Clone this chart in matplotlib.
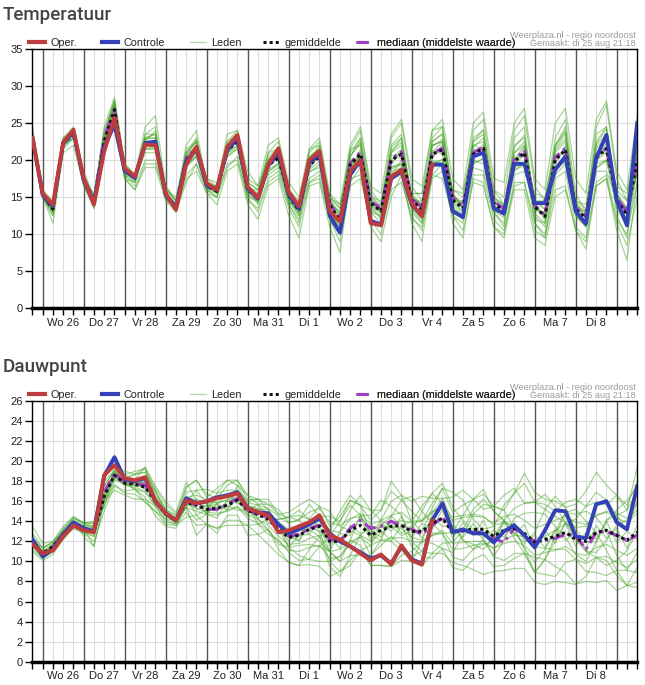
import numpy as np
import matplotlib
matplotlib.use("Agg")
import matplotlib.pyplot as plt
from matplotlib.lines import Line2D

# ---------------- data ----------------
day_labels = ['Wo 26', 'Do 27', 'Vr 28', 'Za 29', 'Zo 30', 'Ma 31', 'Di 1',
              'Wo 2', 'Do 3', 'Vr 4', 'Za 5', 'Zo 6', 'Ma 7', 'Di 8']
steps_per_day = 4          # 6-hourly values
first_day_start = 1        # index of 00:00 of 'Wo 26'
n_points = 60

temp_oper = [23, 15.5, 14.0, 22.4, 24.1, 17.5, 14.0, 21.2, 25.7, 18.9, 17.8, 22.1, 22.0,
             15.5, 13.3, 19.4, 21.8, 16.9, 16.0, 21.8, 23.4, 16.4, 14.9, 19.4, 21.6,
             15.7, 13.8, 20.0, 21.2, 13.1, 11.7, 18.5, 20.0, 11.5, 11.2, 17.8, 18.7,
             14.2, 12.4, 19.4]
temp_controle = [23, 15.3, 13.8, 22.3, 23.8, 17.3, 14.2, 21.8, 24.8, 18.6, 17.6, 22.3, 22.5,
                 15.3, 13.5, 19.8, 21.5, 16.6, 16.1, 21.4, 23.0, 16.2, 14.8, 19.3, 21.2,
                 15.4, 13.5, 19.6, 20.8, 12.5, 10.2, 18.0, 20.0, 11.8, 11.3, 17.5, 18.5,
                 14.0, 12.5, 19.4, 19.4, 13.1, 12.3, 20.5, 21.0, 13.5, 12.8, 19.5, 19.5,
                 14.2, 14.2, 18.7, 20.5, 13.1, 11.4, 20.3, 23.4, 14.6, 11.2, 25.0]
temp_mean = [23, 15.3, 13.4, 22.3, 23.5, 17.5, 14.5, 22.5, 26.8, 18.5, 17.6, 22.2, 22.3,
             15.3, 13.8, 20.0, 21.5, 16.5, 15.8, 21.3, 22.5, 16.0, 14.8, 19.3, 20.3,
             15.2, 13.2, 19.3, 20.5, 14.0, 11.8, 19.4, 20.8, 14.2, 13.1, 20.0, 20.8,
             14.6, 13.3, 20.8, 21.4, 14.6, 13.5, 20.8, 21.6, 14.2, 13.1, 19.8, 21.0,
             13.7, 12.4, 20.0, 21.4, 13.3, 12.2, 20.3, 21.6, 14.6, 12.6, 20.0]
temp_median = [23, 15.3, 13.6, 22.5, 23.7, 17.6, 14.6, 23.0, 26.9, 18.6, 17.7, 22.2, 22.5,
               15.4, 13.9, 20.3, 21.7, 16.6, 15.9, 21.5, 22.7, 16.1, 14.9, 19.5, 20.5,
               15.3, 13.4, 19.6, 20.7, 14.2, 12.0, 19.6, 21.1, 14.5, 13.4, 20.2, 21.1,
               14.8, 13.6, 20.9, 21.6, 14.9, 13.8, 21.0, 21.8, 14.5, 13.4, 20.1, 21.3,
               13.9, 12.6, 20.4, 21.6, 13.6, 12.5, 20.7, 21.5, 14.9, 13.0, 20.2]
temp_members = [
    [23.5, 15.8, 14, 22.5, 24, 18, 15, 24, 28, 19, 17.5, 23.5, 24.5,
     15.5, 13.5, 21, 23, 17, 16, 22.5, 24, 17, 16, 21, 22.5, 15.5, 13, 21, 22.5,
     15, 13.5, 21.5, 24, 16, 14, 23, 25, 16.5, 14.5, 23, 24.5, 15.5, 13.5, 24, 25.5,
     16, 15, 24, 26, 16.5, 14.5, 23, 25.5, 15.5, 13, 24.5, 27.5, 17.5, 14.5, 25],
    [22.5, 15, 12.5, 21.5, 23, 17, 14, 21.5, 25.5, 18, 16.5, 20, 20,
     15, 13.5, 18, 19.5, 16, 15, 19.5, 20, 15, 13, 17, 18, 13.5, 11, 17, 17.5,
     12, 9, 16.5, 17.5, 12, 10, 16, 17, 12.5, 10.5, 18, 17.5, 12.5, 10.5, 17, 16.5,
     11, 10, 17, 17, 11.5, 9.5, 16, 16.5, 10.5, 9, 16.5, 17.5, 11.5, 8.5, 15],
    [23, 15.5, 13.5, 22, 23.5, 17.5, 14, 23, 27.5, 18.5, 18, 22.5, 22.5,
     16, 14.5, 20.5, 21.5, 16, 15, 21.5, 23, 17, 16, 19.5, 20.5, 14, 11.5, 19, 20.5,
     14, 13, 21.5, 22, 13, 11.5, 18, 20, 15.5, 15.5, 24, 24.5, 15.5, 13.5, 20, 19.5,
     13, 13, 22, 23, 14.5, 13.5, 22, 24.5, 13.5, 11, 18.5, 18.5, 14.5, 13.5, 22],
    [24.5, 16, 14.5, 23, 24.5, 18.5, 15, 24.5, 28.5, 19.5, 18, 24.5, 26,
     16.5, 14.5, 22, 24, 17, 16.5, 23.5, 24, 18.5, 16.5, 22, 23, 17, 15, 21.5, 23,
     15.5, 14, 22, 24.5, 16.5, 15.5, 23.5, 25.5, 17.5, 16.5, 24, 25.5, 17.5, 16, 25, 26.5,
     17.5, 17, 25, 27, 17.5, 16, 25, 27, 17.5, 15.5, 25.5, 28, 18.5, 16, 26],
    [22.5, 15, 11.5, 21, 22, 16.5, 14, 21, 24.5, 17.5, 16, 19, 19,
     14.5, 13, 17, 19.5, 15.5, 14, 18.5, 19.5, 14, 12, 16.5, 17.5, 12.5, 9.5, 16.5, 17,
     11, 7.5, 17.5, 18, 11, 9, 15, 18, 11.5, 9, 18, 19.5, 11.5, 9.5, 17.5, 17,
     11, 9.5, 16, 16, 9.5, 8.5, 15, 16, 10.5, 8, 16.5, 17.5, 10.5, 6.5, 17],
    [23.5, 15.5, 13, 22.5, 24, 17.5, 14.5, 23.5, 28, 18, 17, 23, 23.5,
     15, 13.5, 19, 20.5, 17.5, 16.5, 20.5, 21.5, 15, 14.5, 18.5, 19.5, 16, 14, 18.5, 19,
     15, 14, 18.5, 19.5, 15, 14.5, 21, 22, 13.5, 12, 20, 19.5, 16, 15.5, 22, 22.5,
     13, 11.5, 18, 18.5, 14.5, 14.5, 21, 22.5, 12.5, 11, 19.5, 20, 16.5, 15.5, 21],
    [23, 15, 13, 22, 23, 18, 14.5, 22.5, 26.5, 19, 18, 21.5, 21.5,
     16.5, 14.5, 21, 22.5, 16.5, 15.5, 22.5, 23.5, 16, 15.5, 21, 21.5, 14.5, 13, 21.5, 22,
     13, 11, 20.5, 22.5, 13, 12.5, 22, 23.5, 14.5, 14.5, 19, 19.5, 13.5, 12.5, 23, 24,
     14, 12.5, 23, 24.5, 12.5, 11, 19, 20.5, 14.5, 12, 23.5, 24.5, 13.5, 11, 23],
    [23, 15.5, 13.5, 22.5, 23.5, 17, 15, 21.5, 27, 17.5, 17, 22.5, 24,
     14.5, 13.5, 19.5, 20.5, 16, 15.5, 21, 22, 16.5, 14, 19.5, 20, 15, 13, 17.5, 18.5,
     14, 10, 18.5, 21, 14, 14, 19, 19.5, 15.5, 15.5, 21, 22.5, 14.5, 13, 22, 21.5,
     15, 14, 19, 21, 15.5, 15, 21.5, 23.5, 13.5, 13, 20.5, 21.5, 15.5, 13.5, 18],
    [22.5, 15, 12.5, 22, 23, 17, 13.5, 22, 26, 18, 17.5, 21, 21,
     16, 14.5, 19.5, 21.5, 16, 16, 21, 22.5, 16, 16, 18, 19, 14.5, 12.5, 20, 21,
     15, 13.5, 19.5, 20, 14, 12, 18.5, 19, 13.5, 11.5, 22, 22.5, 13.5, 12, 19, 18.5,
     13, 11, 21, 22, 11.5, 10, 18, 19.5, 12.5, 11, 22, 23.5, 12.5, 9.5, 19],
    [23, 15, 13.5, 22.5, 23.5, 18, 15, 23, 27.5, 18.5, 17, 23, 23,
     15.5, 14, 21.5, 22.5, 16.5, 16.5, 22, 22.5, 15.5, 14.5, 20.5, 21.5, 15.5, 13.5, 20.5, 21.5,
     12.5, 10.5, 21, 23, 15.5, 13.5, 21, 23, 13, 11.5, 22.5, 23.5, 16, 15, 22.5, 23.5,
     16, 14, 19, 19.5, 12, 11.5, 22, 24, 14.5, 14, 22.5, 24.5, 15.5, 12.5, 22],
    [23.5, 15.5, 14, 23, 24, 17.5, 15.5, 23.5, 28, 19.5, 18, 23.5, 23.5,
     16, 15, 20.5, 22, 17.5, 17, 22, 23, 17.5, 16.5, 20, 21, 16, 14.5, 20, 20.5,
     14.5, 13, 19, 20.5, 13.5, 13, 20, 21.5, 15, 14, 22, 22.5, 14.5, 14.5, 20.5, 21,
     14.5, 13.5, 20, 22, 13.5, 12.5, 19, 20.5, 14.5, 13.5, 20, 21, 16, 14.5, 20],
    [23, 15, 13, 22, 23.5, 16.5, 13.5, 20.5, 25.5, 17.5, 16, 19.5, 19.5,
     15, 13, 17.5, 18.5, 15.5, 15, 19, 20.5, 14.5, 13.5, 17.5, 18.5, 14, 12, 17, 18,
     12, 10, 17, 19, 12, 11, 17.5, 18, 12, 11, 17.5, 18.5, 12.5, 11.5, 18, 18,
     12, 10.5, 16.5, 17, 10.5, 9.5, 17.5, 18.5, 11, 9.5, 17, 18, 12, 10, 17],
    [23.2, 15.6, 13.0, 22.8, 24.2, 17.2, 14.8, 23.2, 27.2, 18.2, 17.9, 22.8, 23.0, 15.0, 13.5,
     20.8, 22.4, 16.8, 15.5, 21.9, 23.4, 16.6, 15.5, 20.1, 21.2, 15.9, 13.9, 20.3, 21.6, 14.8,
     12.5, 20.6, 22.2, 15.0, 13.6, 21.3, 22.4, 15.4, 14.0, 21.9, 22.8, 15.3, 14.2, 21.8, 23.0,
     15.0, 13.9, 21.0, 22.5, 14.5, 13.3, 21.3, 22.9, 14.1, 13.0, 21.6, 23.1, 15.5, 13.4, 21.5],
    [22.8, 15.0, 13.1, 21.8, 23.0, 17.8, 14.2, 22.0, 26.2, 18.8, 17.3, 21.5, 21.5, 15.6, 14.1,
     19.2, 20.6, 16.2, 16.2, 20.5, 21.6, 15.4, 14.2, 18.4, 19.4, 14.6, 12.5, 18.3, 19.4, 13.2,
     11.0, 18.2, 19.5, 13.4, 12.3, 18.8, 19.4, 13.8, 12.5, 19.6, 20.1, 13.8, 12.6, 19.6, 20.2,
     13.3, 12.2, 18.6, 19.6, 12.8, 11.5, 18.8, 19.9, 12.5, 11.3, 19.0, 20.0, 13.6, 11.7, 18.6],
    [23.0, 15.5, 13.8, 22.0, 23.8, 17.6, 14.4, 22.8, 27.0, 18.4, 17.8, 22.6, 22.0, 15.2, 14.0,
     20.4, 21.2, 16.7, 15.6, 21.8, 22.2, 16.4, 14.5, 19.9, 20.0, 15.5, 13.6, 18.8, 20.9, 14.5,
     12.4, 18.8, 21.4, 14.8, 12.6, 20.7, 20.2, 15.2, 13.9, 20.2, 22.1, 14.1, 13.0, 21.5, 21.0,
     14.8, 13.7, 19.2, 21.7, 14.3, 11.9, 20.7, 20.8, 13.9, 12.8, 19.7, 22.3, 14.0, 12.1, 20.8],
    [23.1, 15.2, 13.3, 22.6, 23.3, 17.3, 14.7, 22.3, 26.6, 18.7, 17.5, 21.9, 22.7, 15.5, 13.6,
     19.6, 21.9, 16.3, 16.0, 20.9, 22.9, 15.7, 15.1, 18.9, 20.7, 14.9, 12.9, 19.8, 20.1, 13.6,
     11.4, 19.9, 20.3, 13.7, 13.5, 19.4, 21.3, 14.1, 12.8, 21.3, 20.8, 15.1, 14.0, 20.2, 22.2,
     13.7, 12.6, 20.4, 20.4, 13.2, 12.9, 19.4, 22.0, 12.8, 11.7, 20.8, 21.0, 15.1, 13.1, 19.3],
    [23.3, 15.4, 13.6, 22.4, 23.6, 17.4, 14.6, 22.6, 27.5, 18.3, 17.7, 23.0, 23.5, 15.4, 13.9,
     20.6, 22.8, 16.4, 15.7, 21.6, 23.2, 16.2, 14.9, 20.0, 21.8, 15.0, 13.2, 20.1, 22.0, 14.3,
     12.0, 20.4, 22.9, 14.4, 13.2, 21.7, 23.0, 14.8, 13.4, 22.5, 23.6, 14.9, 13.6, 22.5, 24.1,
     14.5, 13.2, 21.7, 23.4, 13.9, 12.6, 21.9, 23.8, 13.6, 12.4, 22.2, 24.2, 14.9, 12.8, 22.4],
    [22.9, 15.3, 13.5, 22.2, 23.4, 17.5, 14.4, 22.4, 26.4, 18.5, 17.6, 21.6, 21.8, 15.3, 13.7,
     19.5, 20.9, 16.6, 15.9, 20.8, 21.9, 16.1, 14.7, 18.7, 19.6, 15.3, 13.3, 18.7, 19.8, 14.1,
     11.9, 18.6, 19.7, 14.3, 13.0, 19.1, 19.5, 14.7, 13.3, 19.5, 20.0, 14.7, 13.5, 19.5, 20.2,
     14.3, 13.2, 18.6, 19.3, 13.8, 12.5, 18.7, 19.8, 13.4, 12.3, 18.9, 19.9, 14.7, 12.7, 18.5],
]

dew_oper = [11.7, 10.8, 11.1, 12.5, 13.6, 13.1, 12.9, 18.6, 19.6, 18.3, 18.1, 18.4, 16.0,
            14.8, 14.1, 16.1, 15.8, 16.0, 16.3, 16.5, 16.8, 15.3, 14.9, 14.6, 12.9,
            13.1, 13.5, 13.9, 14.6, 12.6, 12.2, 11.5, 10.8, 10.1, 10.7, 9.7, 11.6,
            10.1, 9.7, 14.1]
dew_controle = [12.2, 10.5, 11.2, 12.7, 13.9, 13.3, 13.0, 18.5, 20.4, 18.2, 18.0, 18.3, 16.0,
                14.8, 14.1, 16.3, 15.8, 16.0, 16.4, 16.6, 16.9, 15.3, 14.9, 14.8, 13.7,
                12.8, 13.2, 13.7, 14.3, 12.8, 12.0, 11.5, 10.9, 10.3, 10.6, 9.8, 11.5,
                10.2, 9.8, 14.1, 15.8, 12.9, 13.2, 12.8, 12.8, 11.9, 13.0, 13.6, 12.6,
                11.4, 13.1, 15.1, 15.0, 12.5, 12.3, 15.7, 16.0, 13.9, 13.2, 17.5]
dew_mean = [12.0, 10.8, 11.5, 12.7, 13.8, 13.3, 13.0, 16.5, 18.6, 17.8, 17.7, 17.4, 16.0,
            14.7, 14.1, 15.9, 15.6, 15.2, 15.3, 15.6, 16.1, 15.1, 14.7, 14.2, 13.2,
            12.4, 12.6, 13.2, 13.5, 12.0, 12.0, 13.1, 13.6, 12.6, 13.1, 13.5, 13.6,
            13.0, 13.0, 13.8, 14.3, 12.9, 13.1, 13.2, 13.2, 12.5, 13.1, 13.3, 12.8,
            11.9, 12.2, 12.5, 12.9, 12.2, 12.0, 12.9, 13.1, 12.6, 12.1, 12.9]
dew_median = [12.0, 10.8, 11.4, 12.8, 13.8, 13.3, 13.0, 16.9, 18.8, 17.9, 17.8, 17.6, 16.0,
              14.7, 14.1, 16.0, 15.6, 15.2, 15.2, 15.7, 16.3, 15.1, 14.7, 14.4, 13.4,
              12.5, 12.7, 13.3, 13.6, 12.2, 12.0, 13.3, 14.1, 13.3, 13.5, 14.0, 13.6,
              13.2, 12.7, 13.6, 14.4, 13.0, 13.0, 12.9, 12.9, 12.3, 11.9, 13.3, 12.7,
              12.0, 12.1, 12.3, 12.7, 12.6, 11.2, 12.9, 13.0, 12.6, 12.1, 12.6]
dew_members = [
    [12.5, 11.3, 11.8, 13.2, 14.3, 13.8, 14.0, 18, 19.1, 18.3, 18.7, 18.9, 17, 15.2, 14.1,
     17.4, 18.1, 16.7, 16.3, 17.6, 18.1, 16.1, 16.2, 15.7, 15.2, 13.9, 14.1, 15.7, 14.5,
     14.5, 14.0, 16.1, 15.6, 14.1, 15.1, 17.0, 16.1, 15.0, 14.0, 15.8, 17.3, 14.9, 15.6,
     16.2, 15.2, 15.5, 16.6, 17.3, 15.8, 15.9, 15.7, 15.0, 15.9, 16.2, 15.5, 15.9, 15.6,
     16.6, 15.6, 17.9],
    [11.5, 10.3, 11.0, 12.2, 13.3, 12.8, 12.0, 15, 17.6, 16.8, 16.7, 15.9, 15, 13.7, 13.6,
     14.9, 13.6, 13.7, 13.3, 14.1, 14.1, 13.6, 12.7, 11.7, 10.7, 9.9, 9.6, 9.7, 9.5, 8.5,
     9.0, 10.1, 11.1, 9.6, 9.6, 9.5, 10.1, 10.0, 9.5, 10.8, 10.8, 9.9, 9.6, 9.2, 8.7, 9.0,
     9.1, 9.3, 9.3, 7.9, 7.7, 8.0, 7.9, 7.7, 8.0, 7.9, 8.1, 7.1, 7.6, 7.4],
    [13.5, 11.8, 12.0, 13.5, 14.5, 13.8, 13.5, 15.5, 18.1, 17.8, 18.2, 19.4, 17.5, 16.0, 14.9,
     17.9, 16.1, 15.2, 16.8, 18.1, 17.6, 15.6, 15.2, 15.2, 13.7, 11.4, 10.6, 10.2, 11.5,
     12.5, 14.0, 15.6, 14.6, 12.6, 12.1, 12.0, 13.6, 14.0, 15.5, 16.8, 15.8, 13.4, 12.1,
     11.7, 11.2, 12.5, 14.1, 15.3, 15.8, 15.9, 16.7, 15.5, 13.9, 12.2, 11.0, 10.9, 12.1,
     13.6, 14.1, 15.9],
    [11.0, 10.1, 10.7, 12.2, 13.5, 13.3, 11.5, 16, 17.1, 16.6, 16.2, 16.2, 15.5, 13.9, 13.8,
     16.4, 16.6, 16.2, 15.8, 15.1, 17.6, 16.6, 15.7, 14.2, 14.2, 14.4, 15.1, 14.2, 13.5,
     11.0, 10.0, 12.1, 14.6, 14.6, 16.1, 15.5, 14.6, 12.0, 11.0, 10.8, 11.8, 11.9, 13.1,
     15.2, 16.2, 15.0, 14.1, 12.3, 10.8, 8.9, 10.2, 12.5, 14.9, 14.7, 15.0, 14.4, 13.1,
     10.6, 9.1, 10.9],
    [12.3, 11.0, 11.7, 13.0, 14.1, 13.6, 13.5, 18.5, 19.4, 19.0, 18.7, 19.4, 16.5, 15.2, 14.4,
     16.9, 17.1, 17.2, 16.8, 17.1, 17.1, 15.6, 13.7, 12.7, 12.2, 10.9, 10.1, 10.2, 10.0,
     10.0, 10.5, 12.1, 11.6, 9.6, 9.6, 9.5, 10.6, 11.0, 12.0, 11.8, 11.3, 9.4, 9.1, 10.2,
     10.7, 9.5, 9.6, 10.3, 10.8, 10.4, 10.2, 9.5, 8.9, 7.7, 8.5, 10.4, 10.1, 8.6, 7.6, 7.9],
    [12.0, 10.8, 11.2, 12.7, 14.0, 12.8, 12.5, 17, 18.9, 17.8, 17.2, 16.9, 15.5, 14.2, 13.6,
     14.4, 14.6, 13.7, 13.3, 13.6, 13.6, 13.6, 13.7, 14.2, 14.2, 14.4, 14.1, 13.2, 12.5,
     13.0, 15.0, 16.6, 15.6, 12.6, 14.1, 16.0, 16.6, 14.0, 13.0, 15.3, 17.3, 16.9, 16.1,
     14.2, 13.2, 13.5, 15.6, 16.8, 17.8, 15.9, 15.2, 14.5, 13.9, 14.2, 15.5, 16.9, 16.1,
     14.6, 13.1, 15.9],
    [11.5, 10.5, 11.5, 12.5, 13.5, 13.6, 13.5, 15.5, 18.9, 18.3, 18.0, 17.9, 16.3, 14.7, 13.8,
     15.4, 16.1, 14.7, 14.3, 16.1, 16.1, 15.6, 14.2, 13.2, 11.2, 9.9, 9.6, 11.2, 12.5, 9.5,
     8.5, 10.6, 12.6, 13.6, 13.1, 12.0, 11.1, 10.0, 12.0, 14.8, 16.3, 13.9, 12.1, 11.2,
     11.7, 12.0, 14.1, 13.3, 11.3, 8.9, 10.2, 12.0, 13.9, 12.7, 11.0, 10.4, 9.6, 10.1,
     11.1, 12.9],
    [12.5, 10.5, 11.7, 13.1, 14.3, 13.8, 13.8, 17.5, 19.1, 17.8, 17.7, 17.9, 17, 15.2, 14.6,
     16.4, 14.6, 15.2, 16.3, 16.6, 16.1, 14.6, 14.7, 14.7, 13.7, 12.4, 12.1, 14.2, 15.5,
     15.0, 13.5, 13.1, 12.6, 10.6, 12.1, 14.5, 16.1, 16.5, 15.0, 13.8, 12.8, 12.9, 14.6,
     16.2, 17.2, 15.0, 14.1, 12.8, 11.8, 12.9, 15.2, 16.5, 15.4, 13.2, 12.0, 11.9, 14.1,
     15.1, 16.1, 17.4],
    [11.7, 11.0, 11.3, 12.4, 13.3, 13.0, 12.5, 16, 17.6, 17.0, 17.2, 16.4, 14.5, 13.5, 13.3,
     15.9, 17.1, 15.7, 15.3, 15.6, 15.1, 15.1, 15.7, 15.7, 14.7, 14.4, 14.6, 14.2, 13.0,
     10.0, 9.0, 9.6, 11.1, 11.6, 13.6, 14.5, 13.6, 11.5, 10.5, 10.3, 11.3, 10.9, 12.6,
     14.7, 15.7, 15.5, 15.1, 13.3, 11.3, 9.9, 11.2, 13.0, 14.9, 15.2, 14.0, 12.9, 11.1,
     9.1, 7.6, 9.4],
    [12.2, 11.3, 12.0, 13.0, 14.0, 12.5, 11.5, 16, 18.3, 18.3, 18.7, 18.9, 17, 14.7, 13.8,
     15.4, 14.1, 14.7, 15.8, 16.6, 17.1, 16.1, 16.2, 15.2, 13.2, 11.4, 11.6, 11.7, 11.5,
     11.0, 13.0, 15.1, 16.6, 15.1, 14.1, 13.5, 12.6, 13.0, 15.0, 16.8, 17.8, 15.4, 14.1,
     13.2, 12.2, 10.5, 12.1, 14.3, 14.8, 14.9, 14.7, 13.5, 12.4, 10.7, 10.0, 11.9, 14.1,
     14.6, 15.1, 16.9],
    [11.2, 10.3, 11.0, 12.3, 13.5, 12.8, 13.0, 17.5, 19.1, 17.8, 17.2, 15.9, 15, 14.2, 14.1,
     15.4, 12.6, 13.7, 12.8, 14.6, 14.6, 12.6, 12.7, 13.2, 11.7, 11.4, 12.6, 12.7, 12.0,
     11.0, 10.0, 10.6, 10.6, 10.6, 11.6, 12.5, 11.6, 10.5, 11.0, 12.8, 12.8, 10.4, 10.1,
     11.2, 12.2, 10.5, 10.1, 10.8, 10.8, 8.9, 8.7, 8.5, 9.9, 10.2, 9.0, 8.9, 8.6, 9.1,
     9.1, 8.9],
    [12.8, 11.4, 11.9, 13.3, 14.4, 13.9, 13.8, 19, 19.4, 18.6, 19.0, 19.2, 17.3, 15.7, 14.7,
     17.4, 18.1, 16.4, 17.3, 18.1, 18.1, 16.6, 16.2, 16.2, 14.7, 14.9, 15.6, 16.2, 15.5,
     13.5, 14.5, 16.1, 15.6, 15.1, 15.1, 18.0, 16.6, 16.0, 16.5, 16.3, 16.3, 16.4, 17.1,
     16.2, 16.7, 15.5, 15.1, 16.8, 18.8, 16.9, 16.2, 16.0, 15.4, 15.7, 17.0, 18.9, 17.6,
     16.6, 15.1, 19.4],
    [12.1, 10.9, 11.6, 12.9, 13.9, 13.5, 13.3, 17.0, 18.8, 17.9, 17.9, 17.8, 16.4, 14.9, 14.3,
     16.3, 16.2, 15.8, 15.9, 16.1, 16.6, 15.5, 15.3, 14.9, 13.9, 13.2, 13.5, 14.0, 14.4, 13.1,
     12.9, 14.2, 14.8, 13.7, 14.1, 14.6, 14.9, 14.0, 14.1, 15.0, 15.4, 14.1, 14.4, 14.5, 14.4,
     13.8, 14.5, 14.7, 14.1, 13.3, 13.7, 14.1, 14.5, 13.9, 13.7, 14.6, 14.9, 14.3, 13.9, 14.8],
    [11.9, 10.7, 11.3, 12.5, 13.6, 13.1, 12.8, 16.2, 18.3, 17.6, 17.4, 17.0, 15.6, 14.5, 13.9,
     15.4, 15.0, 14.7, 14.6, 15.1, 15.5, 14.6, 14.2, 13.6, 12.5, 11.7, 11.8, 12.3, 12.6, 11.0,
     11.2, 12.0, 12.4, 11.6, 12.1, 12.3, 12.4, 12.0, 11.9, 12.6, 13.1, 11.8, 11.9, 12.0, 12.0,
     11.3, 11.8, 12.0, 11.6, 10.6, 10.9, 11.1, 11.5, 10.8, 10.6, 11.4, 11.7, 11.1, 10.6, 11.3],
    [12.2, 11.0, 11.4, 12.8, 13.7, 13.2, 13.4, 16.8, 18.5, 17.6, 17.9, 17.2, 16.3, 14.5, 14.3,
     15.6, 16.1, 14.8, 15.6, 15.2, 16.4, 14.8, 15.2, 13.8, 13.6, 12.0, 13.3, 12.7, 14.2, 11.5,
     12.8, 12.6, 14.5, 12.0, 13.9, 13.0, 14.5, 12.4, 13.8, 13.2, 15.2, 12.3, 13.9, 12.6, 14.1,
     11.8, 13.9, 12.7, 13.7, 11.2, 13.1, 11.8, 13.8, 11.5, 12.9, 12.2, 14.0, 11.9, 13.0, 12.2],
    [11.8, 10.6, 11.6, 12.6, 13.9, 13.4, 12.7, 16.3, 18.7, 18.0, 17.5, 17.6, 15.7, 14.9, 13.9,
     16.2, 15.2, 15.6, 15.0, 16.0, 15.8, 15.4, 14.3, 14.6, 12.8, 12.8, 12.0, 13.7, 12.9, 12.5,
     11.3, 13.6, 12.8, 13.2, 12.4, 14.1, 12.8, 13.6, 12.3, 14.4, 13.5, 13.5, 12.4, 13.8, 12.4,
     13.1, 12.4, 13.9, 12.0, 12.6, 11.4, 13.2, 12.1, 12.9, 11.2, 13.6, 12.3, 13.3, 11.3, 13.6],
    [12.0, 10.9, 11.5, 12.7, 13.8, 13.2, 13.1, 16.6, 18.6, 17.7, 17.6, 17.3, 16.1, 14.8, 14.2,
     16.0, 15.8, 15.5, 15.7, 16.2, 16.8, 15.9, 15.6, 15.3, 14.5, 13.8, 14.2, 14.9, 15.3, 13.9,
     13.6, 14.3, 14.5, 13.3, 13.4, 13.5, 13.3, 12.4, 12.1, 12.6, 12.8, 11.2, 11.3, 11.6, 11.8,
     11.3, 12.2, 12.6, 12.5, 11.9, 12.5, 13.1, 13.8, 13.4, 13.5, 14.6, 15.0, 14.8, 14.3, 15.1],
    [12.1, 10.8, 11.4, 12.6, 13.7, 13.4, 13.0, 16.4, 18.5, 17.9, 17.8, 17.5, 15.9, 14.6, 14.0,
     15.7, 15.3, 14.9, 14.8, 15.0, 15.4, 14.3, 13.8, 13.1, 12.0, 11.1, 11.0, 11.4, 11.6, 10.3,
     10.5, 11.7, 12.6, 12.0, 12.8, 13.6, 14.1, 13.8, 14.0, 14.9, 15.6, 14.4, 14.6, 14.7, 14.5,
     13.6, 13.9, 13.6, 12.7, 11.5, 11.3, 11.2, 11.2, 10.2, 9.8, 10.4, 10.5, 9.9, 9.4, 10.2],
]

# ---------------- style ----------------
FW, FH = 645, 685
C_OPER = '#be3c3c'
C_CTRL = '#3441b6'
C_MEMB = '#44a524'
C_MEAN = '#111111'
C_MED = '#a43cc4'
FONT = 'Liberation Sans'
LS_MEAN = (0, (1, 1))
LS_MED = (0, (4, 1.5, 1, 1.5))

fig = plt.figure(figsize=(FW / 100, FH / 100), dpi=100)
fig.patch.set_facecolor('white')

AX_L, AX_R = 32.45, 637.2


def px_axes(top, bottom):
    return fig.add_axes([AX_L / FW, 1 - bottom / FH, (AX_R - AX_L) / FW, (bottom - top) / FH])


def draw_panel(ax, members, mean, median, ctrl, oper, ymax, ystep, top, bottom):
    x = np.arange(n_points)
    for xi in x:
        ax.axvline(xi, color='#dcdcdc', lw=0.8, zorder=0)
    yt = np.arange(0, ymax + 0.01, ystep)
    for yv in yt:
        ax.axhline(yv, color='#dcdcdc', lw=0.8, zorder=0)
    for xi in range(first_day_start, n_points, steps_per_day):
        ax.axvline(xi, color='#555555', lw=1.0, zorder=1)
    for m in members:
        ax.plot(x, m, color=C_MEMB, lw=0.9, alpha=0.47, zorder=2)
    ax.plot(x, median, color=C_MED, lw=2.2, ls=LS_MED, zorder=3)
    ax.plot(x, mean, color=C_MEAN, lw=2.2, ls=LS_MEAN, zorder=4)
    ax.plot(x[:len(ctrl)], ctrl, color=C_CTRL, lw=2.8, zorder=5)
    ax.plot(x[:len(oper)], oper, color=C_OPER, lw=2.8, zorder=6)

    ax.set_xlim(0, n_points - 1)
    ax.set_ylim(0, ymax)
    ax.set_yticks(yt)
    ax.set_yticklabels([f'{v:g}' for v in yt], fontsize=8, family=FONT, color='#222222')
    labels = [''] * n_points
    for d, lab in enumerate(day_labels):
        labels[first_day_start + d * steps_per_day + 2] = lab
    ax.set_xticks(x)
    ax.set_xticklabels(labels, fontsize=8, family=FONT, color='#222222')
    ax.tick_params(axis='both', direction='out', length=5, width=1, color='black', pad=2)
    for s in ('top', 'left', 'right'):
        ax.spines[s].set_linewidth(1.0)
        ax.spines[s].set_color('black')
    ax.spines['bottom'].set_linewidth(2.5)
    ax.spines['bottom'].set_color('black')
    ax.spines['bottom'].set_zorder(10)

    # legend entries, each placed at its own horizontal position (pixels)
    entries = [
        (Line2D([], [], color=C_OPER, lw=3.0), 'Oper.', 29),
        (Line2D([], [], color=C_CTRL, lw=3.0), 'Controle', 102),
        (Line2D([], [], color='#b5d6a8', lw=0.9), 'Leden', 190),
        (Line2D([], [], color=C_MEAN, lw=2.2, ls=LS_MEAN), 'gemiddelde', 263),
        (Line2D([], [], color=C_MED, lw=2.2, ls=LS_MED), 'mediaan (middelste waarde)', 356),
    ]
    height = bottom - top
    for h, name, px in entries:
        leg = ax.legend([h], [name], loc='lower left',
                        bbox_to_anchor=((px - AX_L) / (AX_R - AX_L), 1 + 1.0 / height),
                        frameon=False, prop={'family': FONT, 'size': 7.8},
                        handlelength=1.45, handletextpad=0.5,
                        borderaxespad=0, borderpad=0)
        leg.get_texts()[0].set_color('#222222')
        ax.add_artist(leg)


T1, B1 = 49.0, 308.3
T2, B2 = 401.0, 661.7
ax1 = px_axes(T1, B1)
draw_panel(ax1, temp_members, temp_mean, temp_median, temp_controle, temp_oper, 35, 5, T1, B1)
ax2 = px_axes(T2, B2)
draw_panel(ax2, dew_members, dew_mean, dew_median, dew_controle, dew_oper, 26, 2, T2, B2)

for title, ty, sy in (('Temperatuur', 15, 36), ('Dauwpunt', 367, 388)):
    fig.text(3 / FW, 1 - ty / FH, title, fontsize=13.5, family='Roboto', fontweight='medium',
             color='#444444', va='center', ha='left')
    fig.text(636 / FW, 1 - sy / FH, 'Weerplaza.nl - regio noordoost', fontsize=6.6,
             family=FONT, color='#9a9a9a', va='center', ha='right')
    fig.text(636 / FW, 1 - (sy + 7.5) / FH, 'Gemaakt: di 25 aug 21:18', fontsize=6.6,
             family=FONT, color='#9a9a9a', va='center', ha='right')

fig.savefig('out.png', dpi=100, facecolor='white')
